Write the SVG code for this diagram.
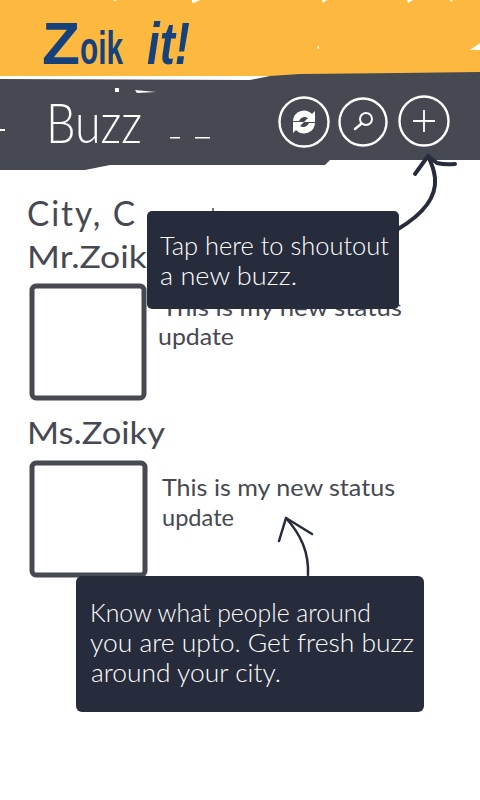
<svg xmlns="http://www.w3.org/2000/svg" width="480" height="800" viewBox="0 0 480 800">
<style>
.hand{font-family:Lato,"Liberation Sans",sans-serif;fill:#464852;font-weight:400}
.tip{font-family:Lato,"Liberation Sans",sans-serif;fill:#fff;font-weight:300}
.box{fill:#272c3c}
.thumb{fill:#fff;stroke:#464852;stroke-width:5}
.ring{fill:none;stroke:#fff;stroke-width:2.400}
.arrow{fill:none;stroke:#272c3c;stroke-linecap:round;stroke-linejoin:round}
</style>
<rect width="480" height="800" fill="#fff"/>
<g id="header">
<path d="M0 0H480V76H0Z" fill="#fdb93f"/>
<path d="M0 79 L250 80 L270 76 L300 74 L400 73 L480 72 V160 L330 160 L325 165 L110 165 L85 170 L0 170Z" fill="#464852"/>
<path d="M0 78H167" stroke="#fff" stroke-width="1.200" fill="none"/>
<path d="M192 3 L194 3 L200 0 H192Z M322 0 L323 3 L327 0Z M407 0 L408 3 L413 0Z M450 0 L451 2 L453 0Z M317 48 L319 45 L319 49Z M470 50 L480 43 V50Z M113 0 L115 1 L117 0Z" fill="#fff"/>
<path d="M115 88h4v4h-4Z M135 90 L156 92 L137 93Z M170 137h10v1.500h-10Z M195 137h15v1.500h-15Z M0 129h5v2h-5Z" fill="#fff"/>
<text x="42" y="64" font-family="Liberation Sans,sans-serif" font-weight="700" fill="#15427c"><tspan font-size="60" textLength="38" lengthAdjust="spacingAndGlyphs">Z</tspan><tspan x="80" font-size="46" textLength="43" lengthAdjust="spacingAndGlyphs">oik</tspan><tspan x="147" font-size="60" font-style="italic" textLength="43" lengthAdjust="spacingAndGlyphs">it!</tspan></text>
<text x="46" y="143" font-family="Lato,Liberation Sans,sans-serif" font-weight="300" font-size="56" fill="#fff" textLength="96" lengthAdjust="spacingAndGlyphs">Buzz</text>
</g>
<g id="refresh-button">
<circle class="ring" cx="304" cy="122" r="24.500"/>
<path d="M293 121 A11 11 0 0 1 312 114 L315 111 V122 H304 L308 118 A6 6 0 0 0 299 121Z M315 123 A11 11 0 0 1 296 130 L293 133 V122 H304 L300 126 A6 6 0 0 0 309 123Z" fill="#fff"/>
</g>
<g id="search-button">
<circle class="ring" cx="363" cy="122" r="23.500"/>
<circle cx="366" cy="119" r="6" fill="none" stroke="#fff" stroke-width="2"/>
<path d="M361 124 L355 129" stroke="#fff" stroke-width="2.500" stroke-linecap="round"/>
</g>
<g id="add-button">
<circle class="ring" cx="424" cy="121" r="24.500"/>
<path d="M413 121H435M424 110V132" stroke="#fff" stroke-width="1.800"/>
</g>
<g id="content">
<text class="hand" x="27" y="226" font-size="35" letter-spacing="2" textLength="110" lengthAdjust="spacingAndGlyphs">City, C</text>
<path d="M213 208V212" stroke="#464852" stroke-width="1.500"/>
<text class="hand" x="27" y="268" font-size="31" textLength="138" lengthAdjust="spacingAndGlyphs">Mr.Zoiky</text>
<rect class="thumb" x="32" y="286" width="112" height="112" rx="4"/>
<text class="hand" x="162" y="316" font-size="24" textLength="240" lengthAdjust="spacingAndGlyphs">This is my new status</text>
<text class="hand" x="158" y="345" font-size="24" textLength="76" lengthAdjust="spacingAndGlyphs">update</text>
<text class="hand" x="27" y="444" font-size="31" textLength="138" lengthAdjust="spacingAndGlyphs">Ms.Zoiky</text>
<rect class="thumb" x="32" y="463" width="113" height="112" rx="4"/>
<text class="hand" x="162" y="496" font-size="24" textLength="233" lengthAdjust="spacingAndGlyphs">This is my new status</text>
<text class="hand" x="162" y="526" font-size="24" textLength="72" lengthAdjust="spacingAndGlyphs">update</text>
</g>
<g id="connectors">
<path class="arrow" stroke-width="4" d="M398 229 C420 216 437 200 435 178 C434 169 431 162 428 156"/>
<path class="arrow" stroke-width="4" d="M415 174 L428 156 L437 163 Q445 165 455 164"/>
<path class="arrow" stroke-width="2.500" d="M308 575 C309 552 301 535 286 518"/>
<path class="arrow" stroke-width="2.500" d="M279 541 L286 518 L312 534"/>
</g>
<g id="tip-shoutout">
<rect class="box" x="147" y="211" width="252" height="98" rx="5"/>
<text class="tip" x="160" y="255" font-size="25" textLength="229" lengthAdjust="spacingAndGlyphs">Tap here to shoutout</text>
<text class="tip" x="160" y="285" font-size="25" textLength="137" lengthAdjust="spacingAndGlyphs">a new buzz.</text>
</g>
<g id="tip-buzz">
<rect class="box" x="76" y="576" width="348" height="136" rx="6"/>
<text class="tip" x="90" y="622" font-size="25" textLength="281" lengthAdjust="spacingAndGlyphs">Know what people around</text>
<text class="tip" x="90" y="652" font-size="25" textLength="324" lengthAdjust="spacingAndGlyphs">you are upto. Get fresh buzz</text>
<text class="tip" x="91" y="682" font-size="25" textLength="190" lengthAdjust="spacingAndGlyphs">around your city.</text>
</g>
</svg>
